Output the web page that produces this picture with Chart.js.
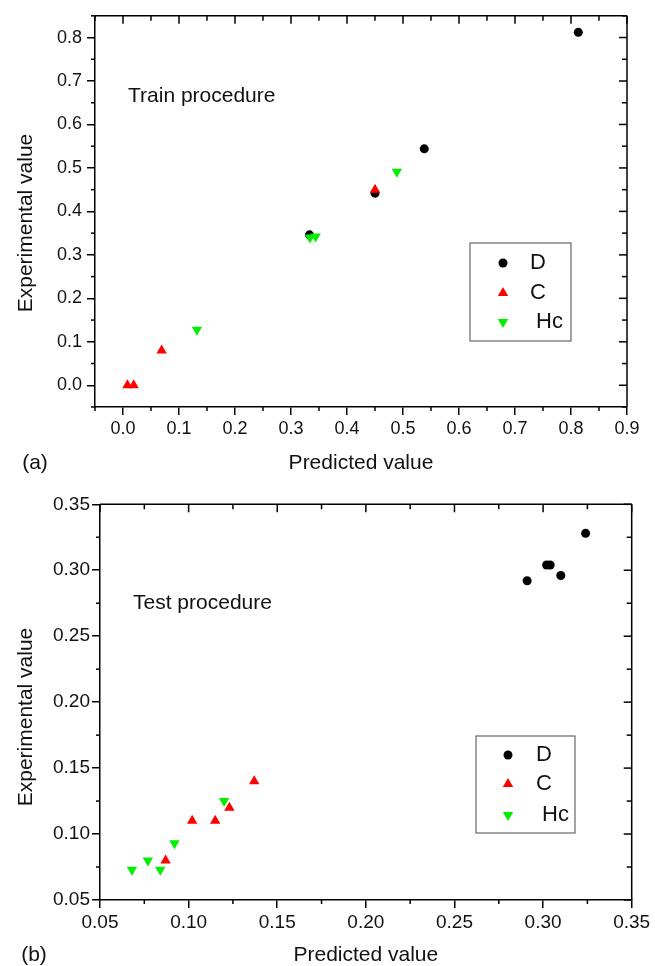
<!DOCTYPE html>
<html><head><meta charset="utf-8">
<script src="https://cdn.jsdelivr.net/npm/chart.js@4.4.1/dist/chart.umd.min.js"></script>
<style>
html,body{margin:0;padding:0;background:#fff;}
.p{position:absolute;left:0;width:655px;height:483px;}
</style></head><body>
<div class="p" style="top:0"><canvas id="ca" width="655" height="483"></canvas></div>
<div class="p" style="top:483px"><canvas id="cb" width="655" height="483"></canvas></div>
<script>
const FONT = "'Liberation Sans', Arial, Helvetica, sans-serif";
const seriesNames = ['D', 'C', ' Hc'];

// Panel (a) - train procedure
const trainD_x  = [0.333, 0.450, 0.538, 0.813];
const trainD_y  = [0.346, 0.442, 0.544, 0.812];
const trainC_x  = [0.008, 0.019, 0.069, 0.450];
const trainC_y  = [0.000, 0.000, 0.080, 0.450];
const trainHc_x = [0.132, 0.334, 0.344, 0.489];
const trainHc_y = [0.128, 0.340, 0.342, 0.491];
const xTicksA = [0.0, 0.1, 0.2, 0.3, 0.4, 0.5, 0.6, 0.7, 0.8, 0.9];
const xMinorA = [-0.05, 0.05, 0.15, 0.25, 0.35, 0.45, 0.55, 0.65, 0.75, 0.85];
const yTicksA = [0.0, 0.1, 0.2, 0.3, 0.4, 0.5, 0.6, 0.7, 0.8];
const yMinorA = [-0.05, 0.05, 0.15, 0.25, 0.35, 0.45, 0.55, 0.65, 0.75, 0.85];

// Panel (b) - test procedure
const testD_x  = [0.291, 0.302, 0.304, 0.310, 0.324];
const testD_y  = [0.292, 0.304, 0.304, 0.296, 0.328];
const testC_x  = [0.087, 0.102, 0.115, 0.123, 0.137];
const testC_y  = [0.080, 0.110, 0.110, 0.120, 0.140];
const testHc_x = [0.068, 0.077, 0.084, 0.092, 0.120];
const testHc_y = [0.073, 0.080, 0.073, 0.093, 0.125];
const xTicksB = [0.05, 0.10, 0.15, 0.20, 0.25, 0.30, 0.35];
const xMinorB = [0.075, 0.125, 0.175, 0.225, 0.275, 0.325];
const yTicksB = [0.05, 0.10, 0.15, 0.20, 0.25, 0.30, 0.35];
const yMinorB = [0.075, 0.125, 0.175, 0.225, 0.275, 0.325];

const COL_D = '#000000', COL_C = '#ff0000', COL_H = '#00ee00';

function pts(xs, ys) { return xs.map((x, i) => ({x: x, y: ys[i]})); }

function drawMarker(ctx, kind, x, y, r, color) {
  ctx.save();
  ctx.fillStyle = color;
  ctx.beginPath();
  if (kind === 'circle') {
    ctx.arc(x, y, r, 0, Math.PI * 2);
  } else {
    let rad = kind === 'down' ? Math.PI : 0;
    for (let k = 0; k < 3; k++) {
      const px = x + Math.sin(rad) * r, py = y - Math.cos(rad) * r;
      if (k === 0) ctx.moveTo(px, py); else ctx.lineTo(px, py);
      rad += 2 * Math.PI / 3;
    }
    ctx.closePath();
  }
  ctx.fill();
  ctx.restore();
}

const framePlugin = {
  id: 'frame',
  afterDraw(chart, args, o) {
    const ctx = chart.ctx, xs = chart.scales.x, ys = chart.scales.y, a = chart.chartArea;
    ctx.save();
    ctx.strokeStyle = '#000';
    ctx.lineWidth = 1.5;
    const line = (x1, y1, x2, y2) => { ctx.beginPath(); ctx.moveTo(x1, y1); ctx.lineTo(x2, y2); ctx.stroke(); };
    line(a.left, a.top, a.right, a.top);
    line(a.right, a.top, a.right, a.bottom);
    o.xMajor.forEach(v => { const p = xs.getPixelForValue(v); line(p, a.top, p, a.top + 8); });
    o.xMinor.forEach(v => { const p = xs.getPixelForValue(v); line(p, a.top, p, a.top + 5); line(p, a.bottom, p, a.bottom + 4); });
    o.yMajor.forEach(v => { const p = ys.getPixelForValue(v); line(a.right, p, a.right - 8, p); });
    o.yMinor.forEach(v => { const p = ys.getPixelForValue(v); line(a.right, p, a.right - 5, p); line(a.left, p, a.left - 4, p); });

    // legend box
    const L = o.legend;
    ctx.strokeStyle = '#666';
    ctx.lineWidth = 1.2;
    ctx.strokeRect(L.x, L.y, L.w, L.h);
    const kinds = ['circle', 'up', 'down'];
    const radii = [4.5, 6, 6];
    ctx.fillStyle = '#111';
    ctx.font = '22px ' + FONT;
    ctx.textBaseline = 'middle';
    ctx.textAlign = 'left';
    chart.data.datasets.forEach((ds, i) => {
      drawMarker(ctx, kinds[i], L.mx, L.rows[i], radii[i], ds.backgroundColor);
      ctx.fillStyle = '#111';
      ctx.fillText(ds.label, L.tx, L.rows[i]);
    });

    // annotation texts
    ctx.font = '21px ' + FONT;
    ctx.fillStyle = '#111';
    ctx.textAlign = 'left';
    ctx.fillText(o.note.text, o.note.x, o.note.y);
    ctx.textAlign = 'center';
    ctx.fillText(o.tag.text, o.tag.x, o.tag.y);
    ctx.save();
    ctx.translate(o.ytitle.x, o.ytitle.y);
    ctx.rotate(-Math.PI / 2);
    ctx.fillText(o.ytitle.text, 0, 0);
    ctx.restore();
    ctx.restore();
  }
};

function makeChart(id, cfg) {
  const datasets = [
    {label: seriesNames[0], data: pts(cfg.D[0], cfg.D[1]), pointStyle: 'circle', pointRadius: 4.5, backgroundColor: COL_D, borderWidth: 0, order: 3},
    {label: seriesNames[1], data: pts(cfg.C[0], cfg.C[1]), pointStyle: 'triangle', pointRadius: 6, backgroundColor: COL_C, borderWidth: 0, order: 2},
    {label: seriesNames[2], data: pts(cfg.H[0], cfg.H[1]), pointStyle: 'triangle', rotation: 180, pointRadius: 6, backgroundColor: COL_H, borderWidth: 0, order: 1}
  ];
  datasets.forEach(d => { d.pointBorderWidth = 0; d.pointBackgroundColor = d.backgroundColor; d.pointBorderColor = d.backgroundColor; d.pointHoverRadius = d.pointRadius; });
  return new Chart(document.getElementById(id), {
    type: 'scatter',
    data: {datasets: datasets},
    plugins: [framePlugin],
    options: {
      responsive: false,
      animation: false,
      devicePixelRatio: 1,
      events: [],
      layout: {padding: cfg.pad},
      plugins: {
        legend: {display: false},
        tooltip: {enabled: false},
        frame: cfg.frame
      },
      scales: {
        x: {
          type: 'linear', min: cfg.xr[0], max: cfg.xr[1],
          afterBuildTicks: s => { s.ticks = cfg.xt.map(v => ({value: v})); },
          afterFit: s => { s.height = cfg.xh; },
          ticks: {autoSkip: false, maxRotation: 0, padding: cfg.xpad, color: '#111',
                  font: {family: FONT, size: cfg.tfs}, callback: v => v.toFixed(cfg.dec)},
          grid: {display: true, drawOnChartArea: false, drawTicks: true, tickLength: 8, color: '#000', lineWidth: 1.5},
          border: {display: true, color: '#000', width: 1.5},
          title: {display: true, text: 'Predicted value', color: '#111', padding: 0,
                  font: {family: FONT, size: 21, lineHeight: 1}}
        },
        y: {
          type: 'linear', min: cfg.yr[0], max: cfg.yr[1],
          afterBuildTicks: s => { s.ticks = cfg.yt.map(v => ({value: v})); },
          afterFit: s => { s.width = cfg.yw; },
          ticks: {autoSkip: false, padding: cfg.ypad, color: '#111',
                  font: {family: FONT, size: cfg.tfs}, callback: v => v.toFixed(cfg.dec)},
          grid: {display: true, drawOnChartArea: false, drawTicks: true, tickLength: 8, color: '#000', lineWidth: 1.5},
          border: {display: true, color: '#000', width: 1.5},
          title: {display: false}
        }
      }
    }
  });
}

makeChart('ca', {
  D: [trainD_x, trainD_y], C: [trainC_x, trainC_y], H: [trainHc_x, trainHc_y],
  xr: [-0.05, 0.9], yr: [-0.05, 0.85], xt: xTicksA, yt: yTicksA, dec: 1, tfs: 18,
  pad: {top: 12, right: 28, left: 0, bottom: 9.5}, xh: 66.5, yw: 95, xpad: 3, ypad: 5,
  frame: {
    xMajor: xTicksA, xMinor: xMinorA, yMajor: yTicksA, yMinor: yMinorA,
    legend: {x: 470, y: 243, w: 101, h: 98, mx: 503, tx: 530, rows: [263, 293, 322]},
    note: {text: 'Train procedure', x: 128, y: 96},
    tag: {text: '(a)', x: 35, y: 463},
    ytitle: {text: 'Experimental value', x: 26, y: 223}
  }
});

makeChart('cb', {
  D: [testD_x, testD_y], C: [testC_x, testC_y], H: [testHc_x, testHc_y],
  xr: [0.05, 0.35], yr: [0.05, 0.35], xt: xTicksB, yt: yTicksB, dec: 2, tfs: 19,
  pad: {top: 21.3, right: 23.3, left: 0, bottom: 0.5}, xh: 65.5, yw: 100, xpad: 3, ypad: 2,
  frame: {
    xMajor: xTicksB, xMinor: xMinorB, yMajor: yTicksB, yMinor: yMinorB,
    legend: {x: 476, y: 253, w: 99, h: 97, mx: 508, tx: 536, rows: [272, 301, 332]},
    note: {text: 'Test procedure', x: 133, y: 120},
    tag: {text: '(b)', x: 34, y: 472},
    ytitle: {text: 'Experimental value', x: 26, y: 234}
  }
});
</script>
</body></html>
